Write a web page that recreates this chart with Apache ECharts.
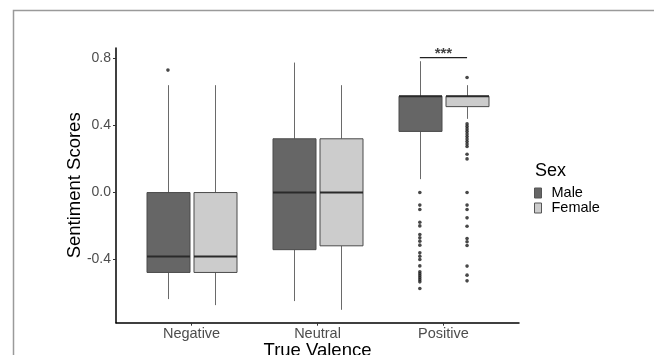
<!DOCTYPE html>
<html>
<head>
<meta charset="utf-8">
<script src="https://cdn.jsdelivr.net/npm/echarts@6/dist/echarts.min.js"></script>
<style>
html,body{margin:0;padding:0;background:#fff;}
#chart{width:654px;height:355px;}
</style>
</head>
<body>
<div id="chart"></div>
<script>
// ---- data ----
const categories = ['Negative', 'Neutral', 'Positive'];
const sexes = ['Male', 'Female'];
// [min, Q1, median, Q3, max] per category
const maleBox = [
  [-0.636, -0.477, -0.382, 0.0, 0.641],
  [-0.648, -0.341, 0.0, 0.321, 0.776],
  [0.080, 0.365, 0.575, 0.575, 0.784]
];
const femaleBox = [
  [-0.672, -0.477, -0.382, 0.0, 0.641],
  [-0.700, -0.318, 0.0, 0.321, 0.641],
  [0.440, 0.513, 0.575, 0.575, 0.641]
];
const maleOutliers = [
  [0.731],
  [],
  [0.0, -0.075, -0.101, -0.177, -0.199, -0.250, -0.270, -0.290, -0.314, -0.360, -0.380, -0.400, -0.438, -0.473, -0.485, -0.497, -0.509, -0.521, -0.533, -0.573]
];
const femaleOutliers = [
  [],
  [],
  [0.687, 0.410, 0.395, 0.380, 0.365, 0.350, 0.335, 0.320, 0.305, 0.290, 0.275, 0.229, 0.201, 0.0, -0.075, -0.101, -0.151, -0.201, -0.274, -0.294, -0.316, -0.439, -0.493, -0.527]
];
const yTicks = [-0.4, 0.0, 0.4, 0.8];
const sigLabel = '***';
const sigY = 0.806;
const sigCategory = 2;

// ---- build ----
const DODGE = 0.1875;
const colors = { Male: '#666666', Female: '#cccccc' };
const boxes = { Male: maleBox, Female: femaleBox };
const outl = { Male: maleOutliers, Female: femaleOutliers };
const offs = { Male: -DODGE, Female: DODGE };
const FONT = 'Liberation Sans, Arial, Helvetica, sans-serif';
const BOXW = 43;

const series = [];
sexes.forEach(function (s) {
  const fill = colors[s];
  series.push({
    name: s,
    type: 'custom',
    xAxisIndex: 0,
    yAxisIndex: 0,
    silent: true,
    itemStyle: { color: fill },
    encode: { x: 0, y: [1, 2, 3, 4, 5] },
    data: boxes[s].map(function (b, i) { return [i + 1 + offs[s]].concat(b); }),
    renderItem: function (params, api) {
      const x = api.value(0);
      const pMin = api.coord([x, api.value(1)]);
      const pQ1 = api.coord([x, api.value(2)]);
      const pMed = api.coord([x, api.value(3)]);
      const pQ3 = api.coord([x, api.value(4)]);
      const pMax = api.coord([x, api.value(5)]);
      const cx = Math.round(pQ1[0]) + 0.5;
      const hw = BOXW / 2;
      const wStyle = { stroke: '#6a6a6a', lineWidth: 1 };
      return {
        type: 'group',
        children: [
          { type: 'line', shape: { x1: cx, y1: pQ3[1], x2: cx, y2: pMax[1] }, style: wStyle },
          { type: 'line', shape: { x1: cx, y1: pQ1[1], x2: cx, y2: pMin[1] }, style: wStyle },
          { type: 'rect', shape: { x: cx - hw, y: pQ3[1], width: BOXW, height: pQ1[1] - pQ3[1] },
            style: { fill: fill, stroke: '#4a4a4a', lineWidth: 1 } },
          { type: 'line', shape: { x1: cx - hw, y1: pMed[1], x2: cx + hw, y2: pMed[1] },
            style: { stroke: '#2a2a2a', lineWidth: 2 } }
        ]
      };
    },
    z: 2
  });
});
// outliers
sexes.forEach(function (s) {
  const pts = [];
  outl[s].forEach(function (arr, i) {
    arr.forEach(function (v) { pts.push([i + 1 + offs[s], v]); });
  });
  series.push({
    type: 'scatter',
    xAxisIndex: 0,
    yAxisIndex: 0,
    symbol: 'circle',
    symbolSize: 3.6,
    itemStyle: { color: '#1a1a1a' },
    silent: true,
    z: 4,
    data: pts
  });
});
// significance bracket
series.push({
  type: 'line',
  xAxisIndex: 0,
  yAxisIndex: 0,
  silent: true,
  symbol: 'none',
  lineStyle: { color: '#222', width: 1.3 },
  data: [[sigCategory + 1 - DODGE, sigY], [sigCategory + 1 + DODGE, sigY]],
  z: 5
});
series.push({
  type: 'scatter',
  xAxisIndex: 0,
  yAxisIndex: 0,
  silent: true,
  symbolSize: 0,
  data: [[sigCategory + 1, sigY]],
  label: {
    show: true, position: 'top', distance: -4, formatter: sigLabel,
    fontFamily: FONT, fontSize: 15, fontWeight: 'bold', color: '#111'
  },
  z: 5
});

const option = {
  animation: false,
  backgroundColor: '#fff',
  title: {
    text: 'Sex', left: 530, top: 157,
    textStyle: { fontFamily: FONT, fontSize: 18, fontWeight: 'normal', color: '#000' }
  },
  legend: {
    data: sexes.map(function (s) {
      return { name: s, itemStyle: { color: colors[s], borderColor: '#555', borderWidth: 1 } };
    }),
    orient: 'vertical',
    left: 529, top: 180.5,
    itemWidth: 7, itemHeight: 10, itemGap: 0,
    icon: 'rect',
    textStyle: { fontFamily: FONT, fontSize: 14.5, color: '#000', lineHeight: 14.5, padding: [0, 0, 0, 5] },
    selectedMode: false
  },
  grid: { left: 116, right: 135, top: 48, bottom: 32.3, containLabel: false, outerBoundsMode: 'none' },
  xAxis: [{
    type: 'value', min: 0.4, max: 3.6,
    splitLine: { show: false },
    axisLine: { show: true, onZero: false, lineStyle: { color: '#000', width: 1.5 } },
    axisTick: { show: true, length: 3, customValues: [1, 2, 3], lineStyle: { color: '#333' } },
    axisLabel: {
      show: true, customValues: [1, 2, 3], margin: 4,
      formatter: function (v) { return categories[Math.round(v) - 1]; },
      fontFamily: FONT, fontSize: 14.5, color: '#4d4d4d'
    },
    name: 'True Valence', nameLocation: 'middle', nameGap: 18.5, nameMoveOverlap: false,
    nameTextStyle: { fontFamily: FONT, fontSize: 18.5, color: '#000', verticalAlign: 'top' }
  }],
  yAxis: [{
    type: 'value', min: -0.777, max: 0.863,
    splitLine: { show: false },
    axisLine: { show: true, onZero: false, lineStyle: { color: '#000', width: 1.5 } },
    axisTick: { show: true, length: 3, customValues: yTicks, lineStyle: { color: '#333' } },
    axisLabel: {
      show: true, customValues: yTicks, margin: 5,
      formatter: function (v) { return v.toFixed(1); },
      fontFamily: FONT, fontSize: 14, color: '#4d4d4d'
    },
    name: 'Sentiment Scores', nameLocation: 'middle', nameGap: 32, nameMoveOverlap: false,
    nameTextStyle: { fontFamily: FONT, fontSize: 18.5, color: '#000' }
  }],
  graphic: [{
    type: 'rect', silent: true,
    shape: { x: 13.5, y: 10.5, width: 700, height: 400 },
    style: { fill: 'none', stroke: '#9a9a9a', lineWidth: 1.5 }
  }],
  series: series
};

const chart = echarts.init(document.getElementById('chart'), null, { renderer: 'canvas' });
chart.setOption(option);
</script>
</body>
</html>
